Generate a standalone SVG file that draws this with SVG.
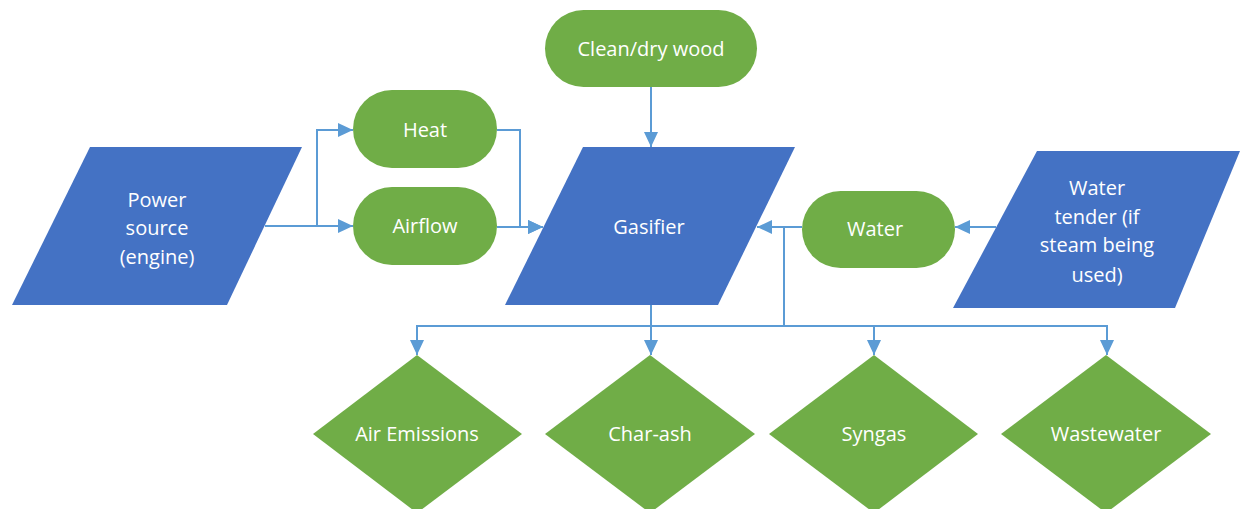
<svg xmlns="http://www.w3.org/2000/svg" width="1241" height="509" viewBox="0 0 1241 509">
<style>
.blue{fill:#4472C4}
.green{fill:#70AD47}
.t{font-family:"Open Sans","Liberation Sans",sans-serif;font-size:20px;fill:#ffffff;text-anchor:middle}
.c{fill:none;stroke:#5B9BD5;stroke-width:2}
</style>
<defs>
<marker id="ah" markerUnits="userSpaceOnUse" markerWidth="16" markerHeight="14" refX="15" refY="7" orient="auto">
<path d="M0,0 L15,7 L0,14 Z" fill="#5B9BD5"/>
</marker>
</defs>
<rect width="1241" height="509" fill="#ffffff"/>
<g id="connectors">
<path class="c" d="M265,226 H353" marker-end="url(#ah)"/>
<path class="c" d="M317,226 V130 H353" marker-end="url(#ah)"/>
<path class="c" d="M497,130 H520 V227 H543" marker-end="url(#ah)"/>
<path class="c" d="M497,227 H543" marker-end="url(#ah)"/>
<path class="c" d="M651,87 V147" marker-end="url(#ah)"/>
<path class="c" d="M996,227 H955" marker-end="url(#ah)"/>
<path class="c" d="M802,227 H757" marker-end="url(#ah)"/>
<path class="c" d="M651,305 V355" marker-end="url(#ah)"/>
<path class="c" d="M651,326 H417 V355" marker-end="url(#ah)"/>
<path class="c" d="M784,227 V326 H874 V355" marker-end="url(#ah)"/>
<path class="c" d="M651,326 H1107 V355" marker-end="url(#ah)"/>
</g>
<g id="power">
<polygon class="blue" points="90,147 302,147 227,305 12,305"/>
<text class="t" x="157" y="207">Power</text>
<text class="t" x="157" y="235">source</text>
<text class="t" x="157" y="264">(engine)</text>
</g>
<g id="heat">
<rect class="green" x="353" y="90" width="144" height="78" rx="39"/>
<text class="t" x="425" y="137">Heat</text>
</g>
<g id="airflow">
<rect class="green" x="353" y="187" width="144" height="78" rx="39"/>
<text class="t" x="425" y="233">Airflow</text>
</g>
<g id="wood">
<rect class="green" x="545" y="10" width="212" height="77" rx="38.5"/>
<text class="t" x="651" y="56">Clean/dry wood</text>
</g>
<g id="gasifier">
<polygon class="blue" points="583,147 795,147 718,305 505,305"/>
<text class="t" x="649" y="234">Gasifier</text>
</g>
<g id="water">
<rect class="green" x="802" y="191" width="153" height="77" rx="38.5"/>
<text class="t" x="875" y="236">Water</text>
</g>
<g id="tender">
<polygon class="blue" points="1037,151 1240,151 1175,308 953,308"/>
<text class="t" x="1097" y="195">Water</text>
<text class="t" x="1097" y="224">tender (if</text>
<text class="t" x="1097" y="252">steam being</text>
<text class="t" x="1097" y="282">used)</text>
</g>
<g id="air-emissions">
<polygon class="green" points="417,355 522,434 417,513 313,434"/>
<text class="t" x="417" y="441">Air Emissions</text>
</g>
<g id="char-ash">
<polygon class="green" points="650,355 755,434 650,513 545,434"/>
<text class="t" x="650" y="441">Char-ash</text>
</g>
<g id="syngas">
<polygon class="green" points="874,355 978,434 874,513 769,434"/>
<text class="t" x="874" y="441">Syngas</text>
</g>
<g id="wastewater">
<polygon class="green" points="1106,355 1211,434 1106,513 1001,434"/>
<text class="t" x="1106" y="441">Wastewater</text>
</g>
</svg>
